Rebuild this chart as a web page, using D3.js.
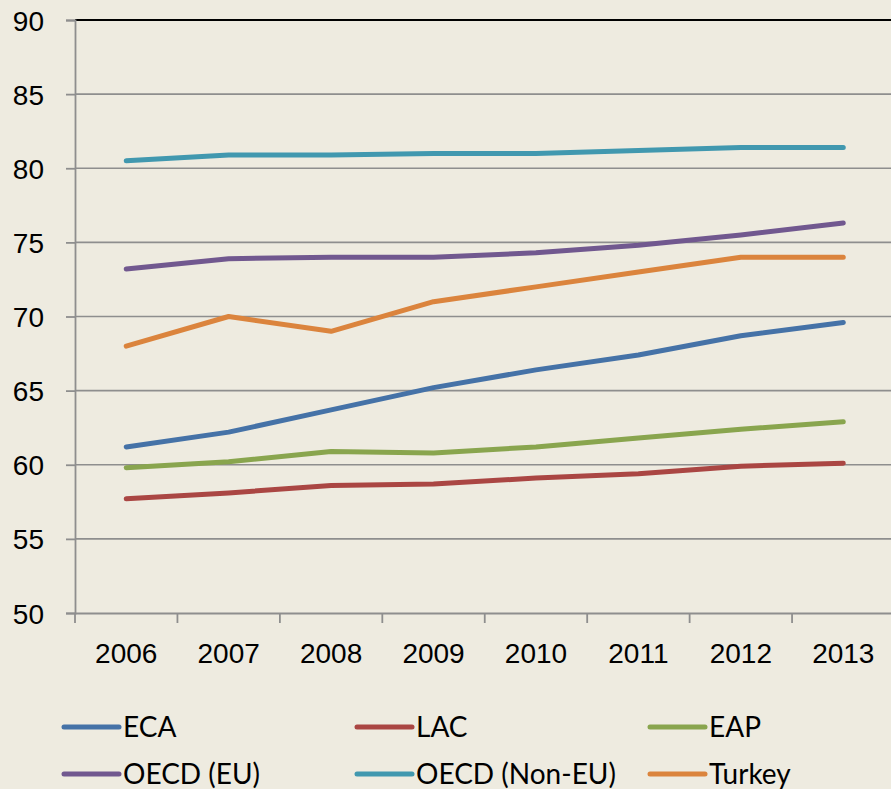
<html>
<script src="https://d3js.org/d3.v7.min.js"></script>
<style>
    body { margin: 0; background: #eeebe0; }
    svg { display: block; font-family: Lato, "Open Sans", sans-serif; }
    .grid line { stroke: #8e8e8e; stroke-width: 1.6px; }
    .axis path, .axis line { stroke: #8e8e8e; stroke-width: 1.8px; }
    .axis text { fill: #000; font-size: 28px; }
    .series { fill: none; stroke-width: 5px; stroke-linejoin: round; stroke-linecap: round; }
    .legend text { font-size: 28px; fill: #000; }
</style>
<svg width=891 height=789></svg>
<script>
    let years = ['2006', '2007', '2008', '2009', '2010', '2011', '2012', '2013'];
    let yTicks = [50, 55, 60, 65, 70, 75, 80, 85, 90];

    let eca    = [61.2, 62.2, 63.7, 65.2, 66.4, 67.4, 68.7, 69.6];
    let lac    = [57.7, 58.1, 58.6, 58.7, 59.1, 59.4, 59.9, 60.1];
    let eap    = [59.8, 60.2, 60.9, 60.8, 61.2, 61.8, 62.4, 62.9];
    let oecdEu = [73.2, 73.9, 74.0, 74.0, 74.3, 74.8, 75.5, 76.3];
    let oecdNonEu = [80.5, 80.9, 80.9, 81.0, 81.0, 81.2, 81.4, 81.4];
    let turkey = [68, 70, 69, 71, 72, 73, 74, 74];

    let seriesNames = ['ECA', 'LAC', 'EAP', 'OECD (EU)', 'OECD (Non-EU)', 'Turkey'];
    let seriesValues = [eca, lac, eap, oecdEu, oecdNonEu, turkey];
    let colors = ['#4572a7', '#aa4643', '#89a54e', '#71588f', '#4198af', '#db843d'];

    let svg = d3.select('svg'),
        margin = { top: 20, left: 75, bottom: 176 },
        height = +svg.attr('height') - margin.top - margin.bottom;

    let x = d3.scaleBand().domain(years).range([margin.left, 894.5]);
    let y = d3.scaleLinear().domain([50, 90]).range([margin.top + height, margin.top]);

    // gridlines
    svg.append('g').attr('class', 'grid')
        .selectAll('line')
        .data(yTicks.slice(1, -1))
        .enter().append('line')
        .attr('x1', margin.left).attr('x2', 891)
        .attr('y1', d => y(d)).attr('y2', d => y(d));

    // top border
    svg.append('line')
        .attr('x1', margin.left).attr('x2', 891)
        .attr('y1', y(90)).attr('y2', y(90))
        .attr('stroke', '#000').attr('stroke-width', 2);

    svg.append('g').attr('class', 'axis')
        .attr('transform', 'translate(' + margin.left + ',0)')
        .call(d3.axisLeft(y).tickValues(yTicks).tickSize(9).tickPadding(22))
        .call(g => g.selectAll('text').attr('dy', '0.36em'));

    let xAxis = svg.append('g').attr('class', 'axis')
        .attr('transform', 'translate(0,' + y(50) + ')')
        .call(d3.axisBottom(x).tickSize(0).tickPadding(30));
    xAxis.selectAll('.tick line').remove();
    xAxis.selectAll('.boundary')
        .data(years)
        .enter().append('line')
        .attr('class', 'boundary')
        .attr('x1', d => x(d)).attr('x2', d => x(d))
        .attr('y1', 0).attr('y2', 10);

    let line = d3.line()
        .x((d, i) => x(years[i]) + x.bandwidth() / 2)
        .y(d => y(d));

    svg.selectAll('.series')
        .data(seriesValues)
        .enter().append('path')
        .attr('class', 'series')
        .attr('stroke', (d, i) => colors[i])
        .attr('d', line);

    // legend
    let legX = [64, 357, 650], legY = [727, 774];
    let leg = svg.append('g').attr('class', 'legend')
        .selectAll('g')
        .data(seriesNames)
        .enter().append('g')
        .attr('transform', (d, i) => 'translate(' + legX[i % 3] + ',' + legY[Math.floor(i / 3)] + ')');
    leg.append('line')
        .attr('x1', 0).attr('x2', 55)
        .attr('stroke', (d, i) => colors[i])
        .attr('stroke-width', 5).attr('stroke-linecap', 'round');
    leg.append('text')
        .attr('x', 59).attr('dy', '0.36em')
        .text(d => d);
</script>
</html>
